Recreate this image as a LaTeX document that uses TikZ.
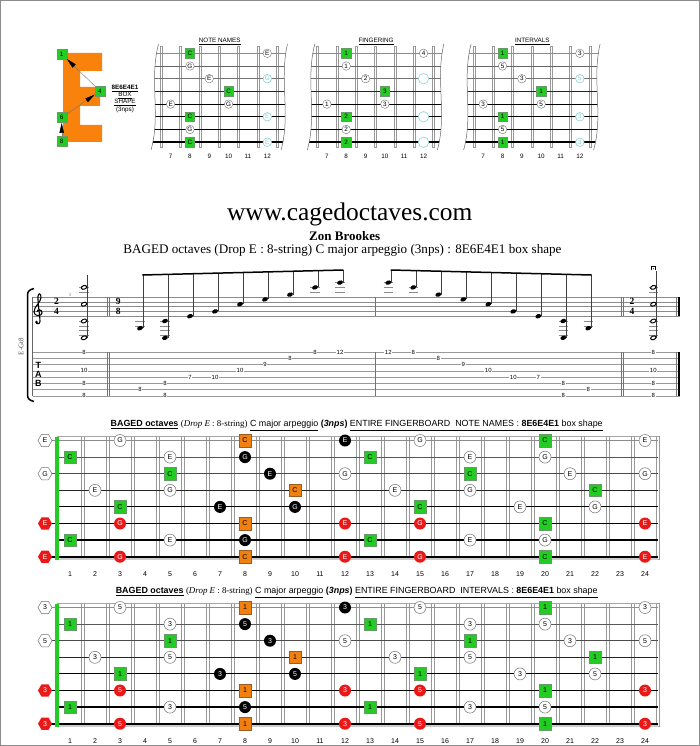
\documentclass[tikz,border=0pt]{standalone}
\usepackage{fontspec}
\setmainfont{Liberation Serif}
\setsansfont{Liberation Sans}
\usetikzlibrary{shapes.geometric,arrows.meta}
\definecolor{gr}{RGB}{34,204,34}
\definecolor{grd}{RGB}{40,110,40}
\definecolor{org}{RGB}{240,128,16}
\definecolor{orgd}{RGB}{160,90,30}
\definecolor{rd}{RGB}{236,24,24}
\definecolor{ghost}{RGB}{140,210,210}
\definecolor{eorg}{RGB}{248,130,12}
\tikzset{
  fbfont/.style={font=\sffamily\fontsize{7}{7}\selectfont, inner sep=0pt},
  gsq/.style={fbfont, rectangle, minimum size=12.5pt, fill=gr, draw=grd!70, line width=0.4pt},
  osq/.style={fbfont, rectangle, minimum size=12.5pt, fill=org, draw=orgd, line width=0.4pt},
  wc/.style={fbfont, circle, minimum size=12pt, fill=white, draw=black!55, line width=0.5pt},
  bc/.style={fbfont, circle, minimum size=12pt, fill=black, text=white},
  rc/.style={fbfont, circle, minimum size=12pt, fill=rd, text=white},
  whex/.style={fbfont, regular polygon, regular polygon sides=6, minimum size=14pt, fill=white, draw=black!55, line width=0.5pt},
  rhex/.style={fbfont, regular polygon, regular polygon sides=6, minimum size=14pt, fill=rd, text=white},
  fretbar/.style={draw=black!40, fill=white, line width=0.4pt},
  fnum/.style={font=\sffamily\fontsize{7}{7}\selectfont, inner sep=0pt},
  fbtitle/.style={font=\sffamily\fontsize{8.9}{9}\selectfont, inner sep=0pt, anchor=base},
  tfont/.style={font=\sffamily\fontsize{6.3}{6.3}\selectfont, inner sep=0pt},
  tg/.style={tfont, rectangle, minimum size=9.5pt, fill=gr, draw=grd!70, line width=0.4pt},
  tw/.style={tfont, circle, minimum size=8.5pt, fill=white, draw=black!55, line width=0.4pt},
  tgh/.style={tfont, circle, minimum size=\ghostsize, fill=white, draw=ghost, text=ghost, line width=0.6pt},
  earr/.style={black!55, line width=0.4pt, -{Triangle[length=10pt,width=4.5pt,color=black]}},
  staffl/.style={black!45, line width=0.5pt},
  tabl/.style={black!40, line width=0.5pt},
  stemline/.style={black!75, line width=0.5pt},
  beamline/.style={black, line width=1.5pt},
  ledger/.style={black!45, line width=0.5pt},
  nhead/.style={ellipse, fill=black, minimum width=6pt, minimum height=4.2pt, inner sep=0pt, rotate=20},
  nhalf/.style={ellipse, draw=black, fill=white, line width=1pt, minimum width=5.6pt, minimum height=3.6pt, inner sep=0pt, rotate=20},
  tabn/.style={font=\sffamily\fontsize{6}{6}\selectfont, fill=white, inner sep=0.7pt},
  barthin/.style={black!55, line width=0.6pt},
}
\def\fbnotes{1/0/whex/E/3, 1/3/wc/G/5, 1/8/osq/C/1, 1/12/bc/E/3, 1/15/wc/G/5, 1/20/gsq/C/1, 1/24/wc/E/3,
2/1/gsq/C/1, 2/5/wc/E/3, 2/8/bc/G/5, 2/13/gsq/C/1, 2/17/wc/E/3, 2/20/wc/G/5,
3/0/whex/G/5, 3/5/gsq/C/1, 3/9/bc/E/3, 3/12/wc/G/5, 3/17/gsq/C/1, 3/21/wc/E/3, 3/24/wc/G/5,
4/2/wc/E/3, 4/5/wc/G/5, 4/10/osq/C/1, 4/14/wc/E/3, 4/17/wc/G/5, 4/22/gsq/C/1,
5/3/gsq/C/1, 5/7/bc/E/3, 5/10/bc/G/5, 5/15/gsq/C/1, 5/19/wc/E/3, 5/22/wc/G/5,
6/0/rhex/E/3, 6/3/rc/G/5, 6/8/osq/C/1, 6/12/rc/E/3, 6/15/rc/G/5, 6/20/gsq/C/1, 6/24/rc/E/3,
7/1/gsq/C/1, 7/5/wc/E/3, 7/8/bc/G/5, 7/13/gsq/C/1, 7/17/wc/E/3, 7/20/wc/G/5,
8/0/rhex/E/3, 8/3/rc/G/5, 8/8/osq/C/1, 8/12/rc/E/3, 8/15/rc/G/5, 8/20/gsq/C/1, 8/24/rc/E/3}
\def\topnotes{1/8/tg/C/1/1, 1/12/tw/E/4/3, 2/8/tw/G/1/5, 3/9/tw/E/2/3, 3/12/tgh/G/{}/5, 4/10/tg/C/3/1, 5/7/tw/E/1/3, 5/10/tw/G/3/5, 6/8/tg/C/2/1, 6/12/tgh/E/{}/3, 7/8/tw/G/2/5, 8/8/tg/C/2/1, 8/12/tgh/E/{}/3}
\newcommand\fbtitletext[1]{\underline{\textbf{BAGED octaves}} {\rmfamily(\textit{Drop E} : 8-string)} \underline{C major arpeggio} \textbf{(\textit{3nps})} \underline{ENTIRE FINGERBOARD\ \ #1 : \textbf{8E6E4E1} box shape}}
\newcommand\fingerboard[4]{%
  \foreach \k in {1,...,24} \draw[fretbar] ({57.5+25*\k-1.3},{#1-4.5}) rectangle ({57.5+25*\k+1.3},{#1+118.5});
  \draw[black!35, line width=0.5pt] (57,{#1-4.5}) -- (658,{#1-4.5});
  \draw[black!20, line width=1.5pt] (57,{#1+118.5}) -- (658,{#1+118.5});
  \foreach \s/\w/\c/\xs in {1/0.35/black!45/45, 2/0.5/black!65/57, 3/0.7/black!70/45, 4/0.9/black!85/57, 5/1.1/black/57, 6/1.3/black/45, 7/1.8/black/57, 8/2.3/black/45}
    \draw[line width=\w pt, color=\c] (\xs,{#1+16.6*(\s-1)}) -- (658,{#1+16.6*(\s-1)});
  \fill[gr] (55.3,{#1-4}) rectangle (59.3,{#1+119});
  \foreach \s/\f/\st/\a/\b in \fbnotes
    \node[\st] (#2-\s-\f) at ({45+25*\f},{#1+16.6*(\s-1)}) {\ifnum#3=1 \a\else\b\fi};
  \foreach \f in {1,...,24} \node[fnum] (#2-l\f) at ({45+25*\f},{#1+133.5}) {\f};
  \node[fbtitle] (#2-title) at (356.7,{#1-13.7}) {\fbtitletext{#4}};
}
\newcommand\topdiag[5]{%
  \def\ghostsize{#5}%
  \begin{scope}[shift={(#1,0)}]
    \foreach \k in {0,...,6} \draw[fretbar] ({161.3+19.33*\k-1},46) rectangle ({161.3+19.33*\k+1},147);
    \begin{scope}
      \clip (158.5,44) .. controls (149,80) and (161,115) .. (151,150) -- (281,150) .. controls (291,115) and (279,80) .. (287.5,44) -- cycle;
      \foreach \s/\w/\c in {1/0.35/black!45, 2/0.45/black!60, 3/1/black!55, 4/0.6/black!85, 5/0.8/black, 6/1.2/black, 7/1.5/black, 8/2/black}
        \draw[line width=\w pt, color=\c] (140,{53.3+12.7*(\s-1)}) -- (300,{53.3+12.7*(\s-1)});
    \end{scope}
    \draw[black!60, line width=0.5pt] (158.5,44) .. controls (149,80) and (161,115) .. (151,150);
    \draw[black!60, line width=0.5pt] (287.5,44) .. controls (279,80) and (291,115) .. (281,150);
    \foreach \s/\f/\st/\a/\b/\c in \topnotes
      \node[\st] (#2-\s-\f) at ({170.6+19.33*(\f-7)},{53.3+12.7*(\s-1)}) {\ifcase#3\or\a\or\b\or\c\fi};
    \foreach \f in {7,...,12} \node[tfont] (#2-l\f) at ({170.6+19.33*(\f-7)},156) {\f};
    \node[tfont, anchor=base] (#2-t) at (219.7,42.7) {\underline{#4}};
  \end{scope}
}
\begin{document}
\begin{tikzpicture}[x=1pt,y=-1pt]
\useasboundingbox (0,0) rectangle (700,746);
\fill[white] (0,0) rectangle (700,746);
\draw[black!45, line width=1pt] (0.5,0.5) rectangle (699.5,745.5);
% ---------- E shape ----------
\fill[eorg] (63,53) -- (102,53) -- (102,71) -- (80,71) -- (80,87) -- (100,87) -- (100,106) -- (80,106) -- (80,125) -- (102,125) -- (102,142) -- (63,142) -- cycle;
\node[tg, minimum size=10pt] (e1) at (61.7,54) {1};
\node[tg, minimum size=10pt] (e4) at (100,91) {4};
\node[tg, minimum size=10pt] (e6) at (61.7,117.7) {6};
\node[tg, minimum size=10pt] (e8) at (61.7,141.7) {8};
\draw[earr] (e8) -- (e6);
\draw[earr] (e6) -- (e4);
\draw[earr] (e4) -- (e1);
\node[tfont, anchor=base] (bx1) at (125,89.3) {\underline{\textbf{8E6E4E1}}};
\node[tfont, anchor=base] (bx2) at (125,96.3) {\underline{BOX}};
\node[tfont, anchor=base] (bx3) at (125,103.6) {\underline{SHAPE}};
\node[tfont, anchor=base] (bx4) at (125,111.7) {(3nps)};
% ---------- small diagrams ----------
\topdiag{0}{da}{1}{NOTE NAMES}{8.5pt}
\topdiag{156.3}{db}{2}{FINGERING}{10.5pt}
\topdiag{312.6}{dc}{3}{INTERVALS}{8.5pt}
% ---------- titles ----------
\node[font=\fontsize{25.4}{25}\selectfont, anchor=base, inner sep=0pt] (site) at (349.7,220.5) {www.cagedoctaves.com};
\node[font=\bfseries\fontsize{13}{13}\selectfont, anchor=base, inner sep=0pt] (author) at (344.7,240.5) {Zon Brookes};
\node[font=\fontsize{13.1}{14}\selectfont, anchor=base, inner sep=0pt] (sub) at (342.5,253.3) {BAGED octaves (Drop E : 8-string) C major arpeggio (3nps) : 8E6E4E1 box shape};
% ---------- staff ----------
\foreach \i in {0,...,4} \draw[staffl] (32.7,{297+4.8*\i}) -- (680,{297+4.8*\i});
\foreach \i in {0,...,7} \draw[tabl] (32.7,{352+6.25*\i}) -- (680,{352+6.25*\i});
\draw[black!60, line width=0.5pt] (32.7,297) -- (32.7,395.75);
\draw[line width=1.5pt] (34,288.5) .. controls (30,289.5) and (27.5,291) .. (27.5,295) -- (27.5,395) .. controls (27.5,399) and (30,400.5) .. (34,401.5);
\node[rotate=90, font=\fontsize{7}{7}\selectfont, text=black!70, inner sep=0pt] (egt) at (21,346.7) {E-Gt8};
% treble clef
\begin{scope}[shift={(38.5,311.4)}]
\draw[line width=1.1pt] (-1.5,0.5) .. controls (-1.5,-2.5) and (3.5,-2.5) .. (3.5,1.5)
  .. controls (3.5,5) and (-4.5,5.5) .. (-4.5,0.5)
  .. controls (-4.5,-5) and (2.5,-9) .. (2.5,-14)
  .. controls (2.5,-18) and (0,-19) .. (-0.5,-15)
  .. controls (-1,-10) and (1.5,5) .. (1.5,10)
  .. controls (1.5,13) and (-2.5,13) .. (-2.5,10.5);
\fill (-1.9,10.6) circle (1.4);
\end{scope}
% time signatures
\node[font=\bfseries\fontsize{9.5}{9.5}\selectfont, inner sep=0pt] (ts1a) at (56.5,301.8) {2};
\node[font=\bfseries\fontsize{9.5}{9.5}\selectfont, inner sep=0pt] (ts1b) at (56.5,311.4) {4};
\node[font=\bfseries\fontsize{9.5}{9.5}\selectfont, inner sep=0pt] (ts2a) at (118.3,301.8) {9};
\node[font=\bfseries\fontsize{9.5}{9.5}\selectfont, inner sep=0pt] (ts2b) at (118.3,311.4) {8};
\node[font=\bfseries\fontsize{9.5}{9.5}\selectfont, inner sep=0pt] (ts3a) at (632,301.8) {2};
\node[font=\bfseries\fontsize{9.5}{9.5}\selectfont, inner sep=0pt] (ts3b) at (632,311.4) {4};
\node[font=\fontsize{5}{5}\selectfont, text=black!60, inner sep=0pt] (mnum) at (70,294.5) {1};
\node[font=\sffamily\bfseries\fontsize{9}{9}\selectfont, inner sep=0pt] (tabT) at (38.3,365) {T};
\node[font=\sffamily\bfseries\fontsize{9}{9}\selectfont, inner sep=0pt] (tabA) at (38.3,374.3) {A};
\node[font=\sffamily\bfseries\fontsize{9}{9}\selectfont, inner sep=0pt] (tabB) at (38.3,383.7) {B};
% barlines
\foreach \bx in {107,109.7,375,621,623.5,676.5} {
  \draw[barthin] (\bx,297) -- (\bx,316.2);
  \draw[barthin] (\bx,352) -- (\bx,395.75);
}
\draw[line width=2.2pt] (679.3,297) -- (679.3,316.2);
\draw[line width=2.2pt] (679.3,352) -- (679.3,395.75);
% ledger lines
\foreach \x/\y in {84/292.2, 84/287.4, 84/321, 84/325.8, 84/330.6, 84/335.4,
  140/321, 140/325.8, 165/321, 165/325.8, 165/330.6, 165/335.4, 315/292.2, 315/287.4, 340/292.2, 340/287.4, 340/282.6,
  388.3/292.2, 388.3/287.4, 388.3/282.6, 413.3/292.2, 413.3/287.4, 563.3/321, 563.3/325.8, 563.3/330.6, 563.3/335.4, 588.3/321, 588.3/325.8,
  653.3/292.2, 653.3/287.4, 653.3/321, 653.3/325.8, 653.3/330.6, 653.3/335.4}
  \draw[ledger] ({\x-4.8},\y) -- ({\x+4.8},\y);
% half-note chords
\draw[stemline] (86.9,337.8) -- (86.9,275);
\draw[stemline] (656.3,337.8) -- (656.3,270.5);
\foreach \x [count=\j] in {84,653.3}
  \foreach \y [count=\i] in {287.4,304.2,321,337.8}
    \node[nhalf] (hn\j-\i) at (\x,\y) {};
\draw[black, line width=0.5pt] (651.2,270.3) -- (651.2,266.6) -- (655.4,266.6) -- (655.4,270.3);
\fill (653.3,268.8) circle (0.6);
% measure 2
\foreach \x/\y [count=\i] in {140/328.2, 165/337.8, 190/316.2, 215/311.4, 240/304.2, 265/299.4, 290/294.6, 315/287.4, 340/282.6} {
  \draw[stemline] ({\x+2.8},\y) -- ({\x+2.8},{275-5*(\x-140)/200});
  \node[nhead] (ma\i) at (\x,\y) {};
}
\node[nhead] (ma10) at (165,321) {};
\draw[beamline] (142.3,275) -- (343.3,270);
% measure 3
\foreach \x/\y [count=\i] in {388.3/282.6, 413.3/287.4, 438.3/294.6, 463.3/299.4, 488.3/304.2, 513.3/311.4, 538.3/316.2, 563.3/337.8, 588.3/328.2} {
  \draw[stemline] ({\x+2.8},\y) -- ({\x+2.8},{270+5*(\x-388.3)/200});
  \node[nhead] (mb\i) at (\x,\y) {};
}
\node[nhead] (mb10) at (563.3,321) {};
\draw[beamline] (390.6,270) -- (591.6,275);
% tab numbers
\foreach \x/\l/\t [count=\i] in {84/1/8, 84/4/10, 84/6/8, 84/8/8,
  140/7/8, 165/6/8, 165/8/8, 190/5/7, 215/5/10, 240/4/10, 265/3/9, 290/2/8, 315/1/8, 340/1/12,
  388.3/1/12, 413.3/1/8, 438.3/2/8, 463.3/3/9, 488.3/4/10, 513.3/5/10, 538.3/5/7, 563.3/6/8, 563.3/8/8, 588.3/7/8,
  653.3/1/8, 653.3/4/10, 653.3/6/8, 653.3/8/8}
  \node[tabn] (tb\i) at (\x,{352+6.25*(\l-1)}) {\t};
% ---------- fingerboards ----------
\fingerboard{440.5}{fa}{1}{NOTE NAMES}
\fingerboard{607.5}{fb}{2}{INTERVALS}
\end{tikzpicture}
\end{document}
